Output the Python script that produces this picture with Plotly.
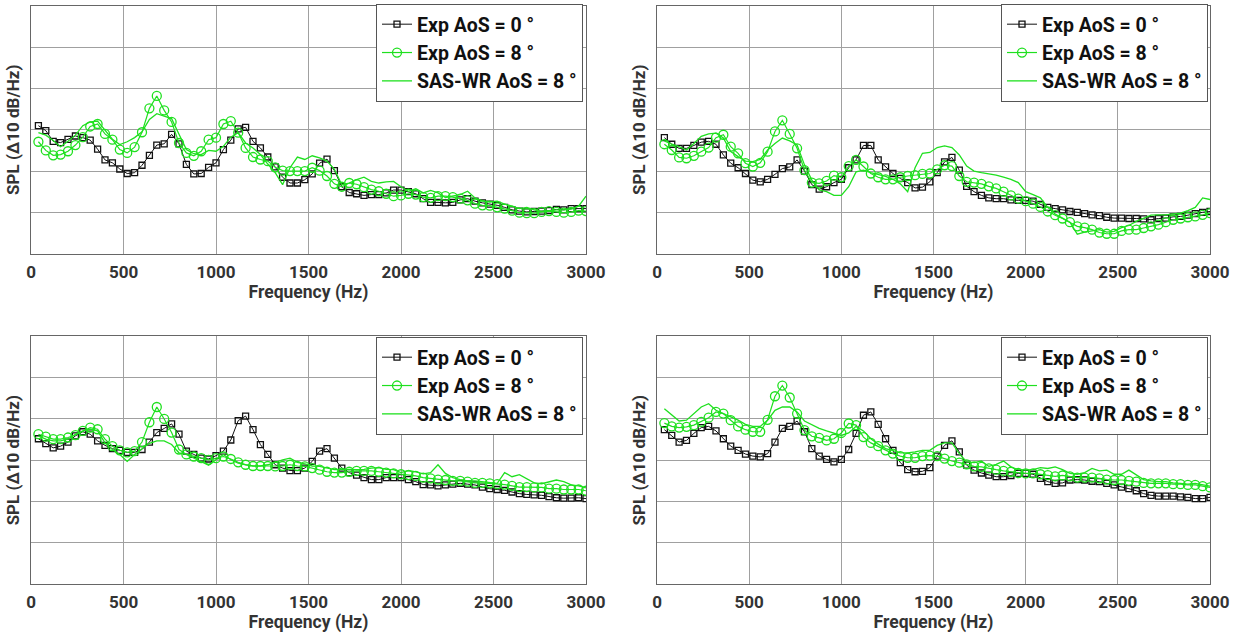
import plotly.graph_objects as go

# Frequency bins (Hz)
freq = list(range(40, 3001, 40))

# Panel (a) — top left
tl_exp0 = [31.0, 29.8, 27.2, 26.9, 27.7, 28.5, 28.1, 27.5, 25.3, 22.7,
           22.0, 20.5, 19.4, 19.6, 21.4, 23.8, 26.3, 26.6, 28.9, 26.6,
           21.6, 19.3, 19.4, 20.9, 22.0, 25.2, 27.5, 30.2, 30.6, 27.2,
           25.6, 23.4, 21.0, 18.5, 17.1, 17.1, 17.9, 19.3, 21.9, 22.9,
           20.1, 16.2, 14.8, 14.5, 14.1, 14.3, 14.3, 14.7, 15.4, 15.4,
           15.0, 14.5, 13.3, 12.4, 12.4, 12.3, 12.4, 13.0, 13.3, 12.7,
           12.3, 12.0, 11.7, 11.2, 10.6, 10.3, 10.1, 10.2, 10.3, 10.4,
           10.7, 10.6, 10.9, 10.9, 10.9]
tl_exp8 = [27.1, 25.0, 23.8, 24.0, 24.8, 26.3, 28.2, 30.8, 31.4, 29.0,
           27.6, 25.2, 24.4, 25.8, 29.4, 35.2, 38.2, 34.7, 31.9, 26.8,
           24.4, 23.7, 24.8, 27.6, 28.1, 31.4, 32.1, 29.3, 25.6, 23.4,
           22.8, 22.4, 20.9, 20.1, 20.0, 20.0, 20.0, 20.8, 20.1, 18.8,
           16.9, 16.2, 17.1, 16.8, 16.1, 15.5, 15.1, 14.5, 13.9, 14.1,
           14.5, 14.3, 13.7, 13.5, 13.9, 13.9, 13.7, 13.3, 12.9, 12.1,
           11.7, 11.6, 11.2, 10.9, 10.4, 9.9, 9.8, 9.8, 10.1, 10.3,
           10.1, 9.9, 10.1, 10.4, 10.3]
tl_sas = [29.3, 28.7, 27.4, 25.9, 27.2, 28.7, 31.0, 31.9, 32.1, 29.8,
          27.7, 26.4, 27.1, 28.1, 29.5, 32.5, 33.9, 33.3, 32.7, 28.9,
          25.2, 24.2, 24.0, 25.0, 24.8, 26.0, 28.2, 29.3, 26.8, 25.6,
          24.0, 21.7, 19.6, 16.7, 20.8, 23.4, 22.8, 23.7, 23.2, 22.4,
          20.4, 16.7, 17.1, 17.9, 18.5, 17.5, 17.1, 17.4, 17.5, 16.2,
          15.1, 15.7, 14.7, 15.3, 14.7, 13.6, 14.0, 14.3, 15.1, 13.5,
          12.8, 12.5, 12.7, 12.0, 11.5, 10.9, 11.2, 10.6, 10.2, 10.4,
          10.6, 10.6, 10.8, 11.5, 13.9]

# Panel (b) — top right
tr_exp0 = [28.1, 26.5, 25.5, 25.5, 26.2, 27.0, 27.2, 26.5, 23.9, 21.9,
           20.8, 19.4, 17.8, 17.4, 18.0, 19.2, 20.6, 21.0, 22.7, 20.0,
           16.7, 15.6, 16.2, 17.2, 18.0, 20.8, 22.7, 26.2, 26.2, 22.7,
           21.0, 19.4, 18.2, 17.2, 15.9, 16.1, 17.4, 19.6, 22.2, 23.3,
           20.2, 16.3, 15.0, 14.1, 13.5, 13.3, 13.3, 13.0, 12.9, 12.9,
           12.7, 11.9, 11.2, 10.9, 10.6, 10.2, 10.0, 9.7, 9.4, 9.2,
           8.8, 8.6, 8.6, 8.5, 8.5, 8.4, 8.2, 8.5, 8.6, 8.9,
           9.0, 9.3, 9.7, 10.0, 10.2]
tr_exp8 = [26.5, 25.1, 23.3, 23.1, 23.7, 24.7, 25.7, 28.1, 28.8, 25.9,
           24.3, 21.9, 21.1, 22.0, 24.7, 29.6, 32.3, 29.0, 25.5, 20.2,
           17.2, 17.0, 17.6, 18.9, 18.5, 21.2, 22.7, 21.1, 19.4, 18.5,
           18.0, 18.0, 18.5, 18.8, 19.0, 19.3, 19.4, 20.4, 21.4, 21.2,
           18.8, 17.4, 17.2, 16.9, 16.3, 15.8, 15.0, 14.1, 13.3, 12.7,
           12.1, 11.3, 10.2, 9.3, 8.5, 7.6, 6.6, 6.3, 5.8, 5.1,
           4.8, 4.8, 5.5, 5.8, 5.8, 6.2, 6.6, 7.0, 7.6, 8.2,
           8.5, 8.8, 9.0, 9.4, 9.8]
tr_sas = [27.3, 26.5, 25.9, 25.1, 26.7, 28.4, 29.0, 29.2, 28.0, 24.7,
          23.5, 22.4, 22.3, 22.8, 25.1, 26.7, 28.0, 27.3, 26.3, 21.5,
          17.8, 15.4, 15.0, 14.1, 14.1, 16.2, 19.8, 20.2, 19.6, 19.2,
          18.7, 18.0, 16.9, 15.0, 20.8, 24.3, 24.5, 25.7, 26.1, 25.7,
          23.9, 21.2, 20.0, 19.6, 19.3, 19.0, 18.5, 18.0, 17.2, 15.0,
          14.3, 13.5, 11.2, 9.6, 8.6, 7.6, 4.7, 5.2, 5.5, 5.8,
          5.2, 5.4, 6.3, 6.8, 7.8, 8.6, 9.3, 9.4, 9.4, 9.6,
          9.8, 10.4, 11.2, 13.5, 13.1]

# Panel (c) — bottom left
bl_exp0 = [35.2, 34.0, 33.0, 33.4, 34.4, 35.9, 36.9, 36.3, 34.7, 33.6,
           32.8, 32.4, 31.9, 31.9, 32.6, 34.4, 36.7, 37.7, 38.8, 36.3,
           32.2, 31.4, 30.5, 30.3, 31.1, 32.2, 34.9, 39.6, 40.7, 37.4,
           33.8, 31.4, 28.9, 28.1, 27.5, 27.5, 28.1, 29.7, 32.2, 32.8,
           30.5, 28.1, 27.0, 26.4, 25.8, 25.3, 25.3, 25.8, 25.8, 25.8,
           25.3, 24.8, 24.1, 24.0, 23.8, 24.0, 24.2, 24.4, 24.2, 24.0,
           23.5, 23.1, 22.9, 22.7, 22.3, 21.9, 21.7, 21.6, 21.5, 21.2,
           20.9, 20.8, 20.8, 20.9, 20.7]
bl_exp8 = [36.3, 35.7, 35.1, 35.1, 35.5, 36.1, 37.1, 37.9, 37.5, 35.1,
           33.4, 32.4, 31.9, 32.2, 34.4, 39.2, 42.9, 40.0, 36.7, 32.6,
           31.4, 30.9, 30.5, 30.1, 30.5, 30.9, 30.3, 29.5, 28.9, 28.6,
           28.6, 28.6, 28.5, 28.6, 28.9, 28.6, 28.5, 28.1, 27.7, 27.2,
           27.0, 27.0, 27.2, 27.4, 27.4, 27.4, 27.2, 27.0, 26.8, 26.6,
           26.4, 26.2, 25.8, 25.6, 25.3, 25.2, 25.0, 25.0, 24.8, 24.5,
           24.5, 24.4, 24.2, 24.1, 23.8, 23.5, 23.5, 23.4, 23.4, 23.1,
           23.1, 22.9, 22.9, 22.9, 22.6]
bl_sas = [35.9, 35.1, 34.7, 34.7, 35.1, 36.3, 37.1, 37.5, 37.1, 34.2,
          32.6, 31.4, 29.7, 31.4, 32.8, 34.1, 34.7, 34.7, 33.8, 31.8,
          31.4, 30.5, 29.7, 28.8, 30.1, 31.4, 30.1, 29.3, 28.9, 28.6,
          28.6, 28.9, 29.5, 30.1, 30.5, 29.5, 29.1, 28.6, 28.5, 28.1,
          27.7, 27.7, 27.8, 27.7, 27.8, 28.1, 28.2, 27.8, 27.7, 27.0,
          27.5, 27.2, 26.7, 27.0, 28.9, 26.8, 25.8, 25.3, 25.0, 25.0,
          24.8, 24.5, 24.4, 27.0, 26.0, 26.5, 25.5, 24.5, 24.3, 24.8,
          25.2, 24.8, 24.0, 23.8, 23.3]

# Panel (d) — bottom right
br_exp0 = [37.4, 36.0, 34.4, 34.8, 36.5, 37.9, 38.2, 37.1, 35.2, 33.4,
           32.4, 31.5, 31.0, 30.8, 31.6, 34.4, 37.7, 38.2, 39.5, 36.9,
           32.8, 31.0, 30.2, 29.6, 30.2, 32.6, 36.5, 40.9, 41.7, 38.7,
           35.2, 32.4, 29.4, 27.7, 27.2, 27.3, 28.2, 31.0, 33.6, 34.7,
           32.0, 28.8, 27.6, 26.9, 26.4, 26.0, 26.0, 26.3, 26.8, 26.8,
           26.6, 25.6, 24.8, 24.4, 24.5, 25.2, 25.3, 25.2, 24.9, 24.8,
           24.4, 24.0, 23.5, 23.1, 22.6, 21.9, 21.5, 21.3, 21.3, 21.3,
           21.1, 21.0, 20.7, 20.7, 21.0]
br_exp8 = [39.0, 38.2, 37.9, 38.1, 38.5, 39.3, 40.3, 41.7, 41.3, 39.7,
           38.2, 37.4, 36.9, 36.9, 39.8, 45.5, 48.1, 45.2, 41.3, 37.3,
           35.8, 35.4, 34.8, 35.2, 36.6, 38.9, 38.5, 35.6, 34.2, 33.4,
           32.4, 31.6, 31.0, 30.6, 30.6, 31.0, 31.1, 31.0, 30.4, 29.8,
           29.4, 29.0, 28.5, 28.4, 28.0, 27.7, 27.4, 27.2, 26.9, 26.8,
           26.8, 26.6, 26.4, 26.1, 26.3, 26.1, 25.8, 25.8, 25.8, 25.6,
           25.3, 25.2, 25.2, 25.0, 24.8, 24.5, 24.4, 24.4, 24.4, 24.2,
           24.2, 24.0, 24.0, 23.7, 23.4]
br_sas = [42.5, 40.9, 39.5, 39.7, 41.3, 42.9, 43.7, 42.1, 41.3, 40.5,
          39.7, 38.7, 38.2, 38.2, 39.7, 42.1, 42.9, 42.9, 41.7, 39.5,
          38.5, 37.7, 37.1, 36.5, 36.0, 36.6, 38.2, 37.1, 35.2, 33.9,
          32.8, 32.3, 31.8, 31.8, 32.0, 32.4, 32.4, 33.6, 34.2, 34.2,
          31.6, 29.6, 29.4, 29.8, 28.5, 29.0, 29.8, 28.4, 27.7, 27.6,
          27.7, 28.2, 28.0, 28.4, 27.7, 26.8, 26.6, 27.0, 28.0, 27.4,
          27.6, 26.6, 26.6, 27.6, 26.4, 25.3, 25.0, 24.8, 24.8, 24.5,
          24.4, 24.2, 24.4, 24.0, 23.7]

legend_names = ["Exp AoS = 0 °", "Exp AoS = 8 °", "SAS-WR AoS = 8 °"]

panels = [
    (tl_exp0, tl_exp8, tl_sas),
    (tr_exp0, tr_exp8, tr_sas),
    (bl_exp0, bl_exp8, bl_sas),
    (br_exp0, br_exp8, br_sas),
]

BLACK = "#111111"
GREEN = "#1fe01f"
FONT = "Roboto"

W, H = 1241, 635
ML, MR, MT, MB = 31, 31, 5, 51
pw, ph = W - ML - MR, H - MT - MB

def px_x(x):
    return (x - ML) / pw

def px_y(y):
    return (H - MB - y) / ph

x_domains = [[px_x(31), px_x(586)], [px_x(657), px_x(1210)]]
y_domains = [[px_y(253), px_y(5)], [px_y(584), px_y(336)]]

fig = go.Figure()
layout = {}

for i, (e0, e8, sas) in enumerate(panels):
    n = i + 1
    xa = "x" if n == 1 else f"x{n}"
    ya = "y" if n == 1 else f"y{n}"
    lg = "legend" if n == 1 else f"legend{n}"
    fig.add_trace(go.Scatter(
        x=freq, y=e0, mode="lines+markers", name=legend_names[0],
        line=dict(color=BLACK, width=1),
        marker=dict(symbol="square-open", size=6, color=BLACK,
                    line=dict(width=1.3, color=BLACK)),
        xaxis=xa, yaxis=ya, legend=lg))
    fig.add_trace(go.Scatter(
        x=freq, y=e8, mode="lines+markers", name=legend_names[1],
        line=dict(color=GREEN, width=1.2),
        marker=dict(symbol="circle-open", size=9, color=GREEN,
                    line=dict(width=1.3, color=GREEN)),
        xaxis=xa, yaxis=ya, legend=lg))
    fig.add_trace(go.Scatter(
        x=freq, y=sas, mode="lines", name=legend_names[2],
        line=dict(color=GREEN, width=1.3),
        xaxis=xa, yaxis=ya, legend=lg))

    col, row = i % 2, i // 2
    xkey = "xaxis" if n == 1 else f"xaxis{n}"
    ykey = "yaxis" if n == 1 else f"yaxis{n}"
    layout[xkey] = dict(
        domain=x_domains[col], anchor=ya, range=[0, 3000],
        tickmode="array", tickvals=[0, 500, 1000, 1500, 2000, 2500, 3000],
        showgrid=True, gridcolor="#a0a0a0", gridwidth=1,
        showline=True, linecolor="#666666", linewidth=1, mirror=True,
        zeroline=False, ticks="", ticklabelstandoff=3,
        tickfont=dict(family=FONT, size=17, color="#333333", weight="bold"),
        title=dict(text="Frequency (Hz)", standoff=2,
                   font=dict(family=FONT, size=17.5, color="#333333", weight="bold")))
    layout[ykey] = dict(
        domain=y_domains[row], anchor=xa, range=[0, 60],
        tickmode="array", tickvals=[10, 20, 30, 40, 50],
        showticklabels=False, showgrid=True, gridcolor="#a0a0a0", gridwidth=1,
        showline=True, linecolor="#666666", linewidth=1, mirror=True,
        zeroline=False, ticks="",
        title=dict(text="SPL (∆10 dB/Hz)", standoff=6,
                   font=dict(family=FONT, size=17, color="#333333", weight="bold")))

    right_px = [583, 1208][col]
    top_px = [4, 337][row]
    lkey = "legend" if n == 1 else f"legend{n}"
    layout[lkey] = dict(
        x=px_x(right_px), xanchor="right", y=px_y(top_px), yanchor="top",
        bgcolor="white", bordercolor="#555555", borderwidth=1,
        itemwidth=30, tracegroupgap=0,
        font=dict(family=FONT, size=19.5, color="#111111", weight="bold"))

fig.update_layout(
    width=W, height=H, autosize=False,
    margin=dict(l=ML, r=MR, t=MT, b=MB),
    paper_bgcolor="white", plot_bgcolor="white",
    showlegend=True,
    **layout)

fig.write_html("out.html")
